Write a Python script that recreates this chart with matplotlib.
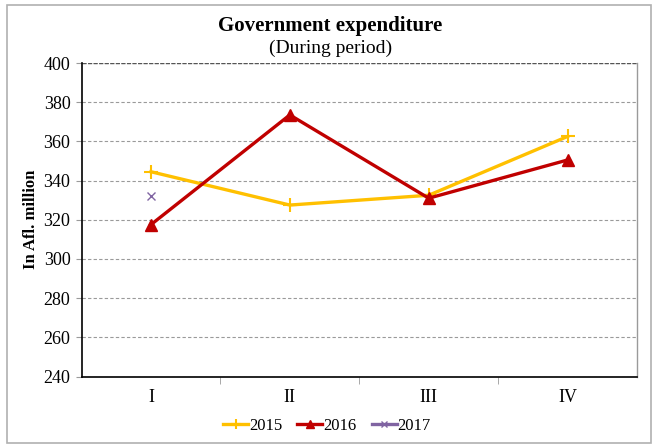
import matplotlib
matplotlib.use("Agg")
import matplotlib.pyplot as plt
from matplotlib.patches import Rectangle

quarters = ["I", "II", "III", "IV"]
exp_2015 = [344.5, 327.5, 332.5, 362.5]
exp_2016 = [317.5, 373.5, 331.0, 350.5]
exp_2017 = [332.0]

C15 = "#FFC000"
C16 = "#C00000"
C17 = "#8064A2"
GRIDC = "#9a9a9a"

plt.rcParams["font.family"] = ["Liberation Serif", "DejaVu Serif"]

fig = plt.figure(figsize=(6.54, 4.45), dpi=100)
W, H = 654, 445
ax = fig.add_axes([81.5 / W, 1 - 376.5 / H, (637 - 81.5) / W, (376.5 - 63) / H])

x = list(range(len(quarters)))
ax.plot(x, exp_2015, color=C15, lw=2.4, marker="+", ms=10, mew=1.5,
        label="2015", zorder=3)
ax.plot(x, exp_2016, color=C16, lw=2.4, marker="^", ms=9,
        label="2016", zorder=4)
ax.plot(x[:len(exp_2017)], exp_2017, color=C17, lw=2.4, marker="x", ms=6,
        mew=1.0, label="2017", zorder=5)

ax.set_xlim(-0.5, 3.5)
ax.set_ylim(240, 400)
ax.set_yticks(range(240, 401, 20))
ax.set_xticks(x)
ax.set_xticklabels(quarters)
ax.set_xticks([0.5, 1.5, 2.5], minor=True)
ax.tick_params(axis="x", which="major", length=0, labelsize=13, pad=9)
ax.tick_params(axis="x", which="minor", length=5, color=GRIDC, direction="out")
ax.tick_params(axis="y", length=4, color=GRIDC, labelsize=13, pad=4)
ax.yaxis.grid(True, color=GRIDC, linestyle=(0, (3, 2)), linewidth=0.8)
ax.set_axisbelow(True)

for s in ("left", "bottom"):
    ax.spines[s].set_color("black")
    ax.spines[s].set_linewidth(1.2)
ax.spines["right"].set_color(GRIDC)
ax.spines["right"].set_linewidth(1.0)
ax.spines["top"].set_visible(False)
ax.axhline(400, color="#555555", linestyle=(0, (3, 1)), linewidth=1.0, zorder=1)

ax.set_ylabel("In Afl. million", fontsize=12, fontweight="bold", labelpad=3)

fig.text(0.505, 1 - 26 / H, "Government expenditure", ha="center", va="center",
         fontsize=15, fontweight="bold")
fig.text(0.505, 1 - 48 / H, "(During period)", ha="center", va="center",
         fontsize=14)

fig.legend(loc="center", bbox_to_anchor=(0.5, 1 - 426 / H), ncol=3, frameon=False,
           fontsize=12, handlelength=1.5, handletextpad=0.05, columnspacing=0.9,
           markerscale=0.7)

fig.patches.append(Rectangle((7 / W, 1 - 443 / H), (651 - 7) / W, (443 - 5) / H,
                             transform=fig.transFigure, fill=False,
                             edgecolor="#b0b0b0", linewidth=1.2))

fig.savefig("out.png", dpi=100, facecolor="white")
